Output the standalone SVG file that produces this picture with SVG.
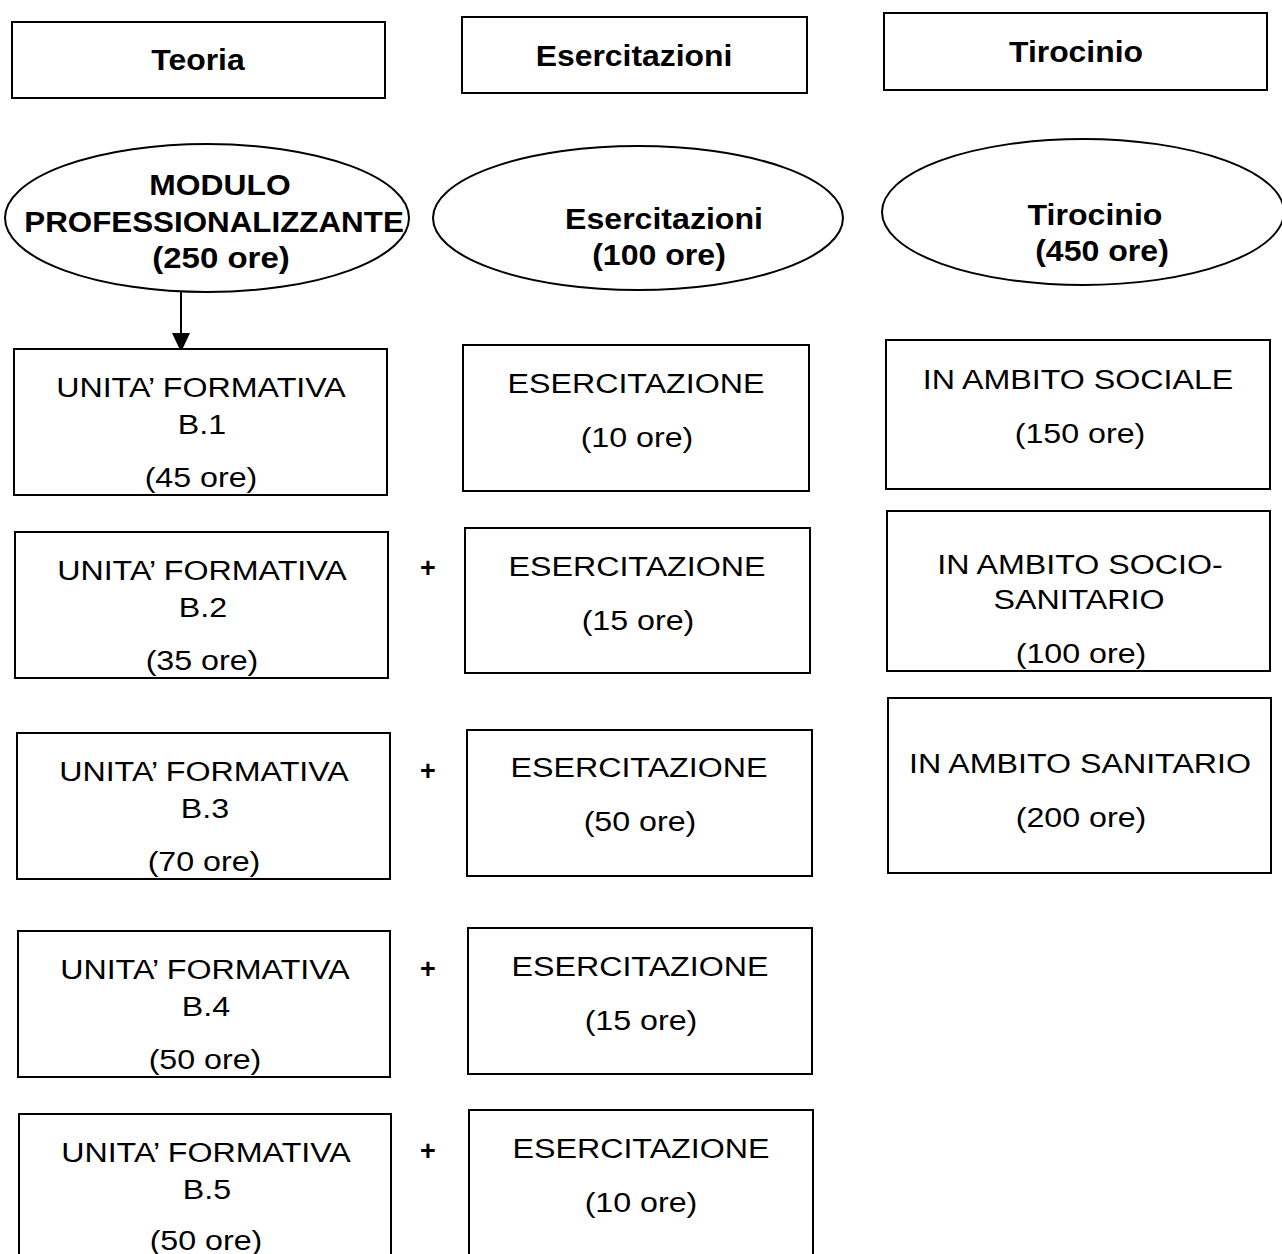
<svg xmlns="http://www.w3.org/2000/svg" width="1282" height="1254" viewBox="0 0 1282 1254">
<style>
  .box { fill: #fff; stroke: #000; stroke-width: 2; }
  .ell { fill: #fff; stroke: #000; stroke-width: 2; }
  .hd { font-family: "Liberation Sans", Arial, sans-serif; font-weight: bold; font-size: 29px; text-anchor: middle; fill: #000; }
  .el { font-family: "Liberation Sans", Arial, sans-serif; font-weight: bold; font-size: 30px; text-anchor: middle; fill: #000; }
  .tx { font-family: "Liberation Sans", Arial, sans-serif; font-size: 28px; text-anchor: middle; fill: #000; }
  .pl { font-family: "Liberation Sans", Arial, sans-serif; font-weight: bold; font-size: 27px; text-anchor: middle; fill: #000; }
</style>
<defs>
  <marker id="arrow" viewBox="0 0 19 18" refX="19" refY="9" markerWidth="19" markerHeight="18" markerUnits="userSpaceOnUse" orient="auto">
    <polygon points="0,0 19,9 0,18" fill="#000"/>
  </marker>
</defs>
<rect width="1282" height="1254" fill="#fff"/>

<g id="hdr-teoria"><rect class="box" x="12" y="22" width="373" height="76"/>
  <text class="hd" transform="translate(198 70) scale(1.1 1)">Teoria</text></g>
<g id="hdr-esercitazioni"><rect class="box" x="462" y="17" width="345" height="76"/>
  <text class="hd" transform="translate(634 66) scale(1.1 1)">Esercitazioni</text></g>
<g id="hdr-tirocinio"><rect class="box" x="884" y="13" width="383" height="77"/>
  <text class="hd" transform="translate(1076 62) scale(1.1 1)">Tirocinio</text></g>

<g id="ell-modulo"><ellipse class="ell" cx="207" cy="218" rx="202" ry="74"/>
  <text class="el" transform="translate(220 195) scale(1.06 1)">MODULO</text>
  <text class="el" transform="translate(214 232) scale(1.045 1)">PROFESSIONALIZZANTE</text>
  <text class="el" transform="translate(221 268) scale(1.1 1)">(250 ore)</text></g>
<g id="ell-esercitazioni"><ellipse class="ell" cx="638" cy="218" rx="205" ry="72"/>
  <text class="el" transform="translate(664 229) scale(1.07 1)">Esercitazioni</text>
  <text class="el" transform="translate(659 265) scale(1.07 1)">(100 ore)</text></g>
<g id="ell-tirocinio"><ellipse class="ell" cx="1083" cy="212" rx="201" ry="73"/>
  <text class="el" transform="translate(1095 225) scale(1.07 1)">Tirocinio</text>
  <text class="el" transform="translate(1102 261) scale(1.07 1)">(450 ore)</text></g>

<g id="connectors">
  <line x1="181" y1="292" x2="181" y2="352" stroke="#000" stroke-width="2" marker-end="url(#arrow)"/>
</g>

<g id="uf-b1"><rect class="box" x="14" y="349" width="373" height="146"/>
  <text class="tx" transform="translate(201 397) scale(1.15 1)">UNITA’ FORMATIVA</text>
  <text class="tx" transform="translate(202 434) scale(1.15 1)">B.1</text>
  <text class="tx" transform="translate(201 487) scale(1.15 1)">(45 ore)</text></g>
<g id="uf-b2"><rect class="box" x="15" y="532" width="373" height="146"/>
  <text class="tx" transform="translate(202 580) scale(1.15 1)">UNITA’ FORMATIVA</text>
  <text class="tx" transform="translate(203 617) scale(1.15 1)">B.2</text>
  <text class="tx" transform="translate(202 670) scale(1.15 1)">(35 ore)</text></g>
<g id="uf-b3"><rect class="box" x="17" y="733" width="373" height="146"/>
  <text class="tx" transform="translate(204 781) scale(1.15 1)">UNITA’ FORMATIVA</text>
  <text class="tx" transform="translate(205 818) scale(1.15 1)">B.3</text>
  <text class="tx" transform="translate(204 871) scale(1.15 1)">(70 ore)</text></g>
<g id="uf-b4"><rect class="box" x="18" y="931" width="372" height="146"/>
  <text class="tx" transform="translate(205 979) scale(1.15 1)">UNITA’ FORMATIVA</text>
  <text class="tx" transform="translate(206 1016) scale(1.15 1)">B.4</text>
  <text class="tx" transform="translate(205 1069) scale(1.15 1)">(50 ore)</text></g>
<g id="uf-b5"><rect class="box" x="19" y="1114" width="372" height="150"/>
  <text class="tx" transform="translate(206 1162) scale(1.15 1)">UNITA’ FORMATIVA</text>
  <text class="tx" transform="translate(207 1199) scale(1.15 1)">B.5</text>
  <text class="tx" transform="translate(206 1250) scale(1.15 1)">(50 ore)</text></g>

<g id="es-1"><rect class="box" x="463" y="345" width="346" height="146"/>
  <text class="tx" transform="translate(636 393) scale(1.15 1)">ESERCITAZIONE</text>
  <text class="tx" transform="translate(637 447) scale(1.15 1)">(10 ore)</text></g>
<g id="es-2"><rect class="box" x="465" y="528" width="345" height="145"/>
  <text class="tx" transform="translate(637 576) scale(1.15 1)">ESERCITAZIONE</text>
  <text class="tx" transform="translate(638 630) scale(1.15 1)">(15 ore)</text></g>
<g id="es-3"><rect class="box" x="467" y="730" width="345" height="146"/>
  <text class="tx" transform="translate(639 777) scale(1.15 1)">ESERCITAZIONE</text>
  <text class="tx" transform="translate(640 831) scale(1.15 1)">(50 ore)</text></g>
<g id="es-4"><rect class="box" x="468" y="928" width="344" height="146"/>
  <text class="tx" transform="translate(640 976) scale(1.15 1)">ESERCITAZIONE</text>
  <text class="tx" transform="translate(641 1030) scale(1.15 1)">(15 ore)</text></g>
<g id="es-5"><rect class="box" x="469" y="1110" width="344" height="154"/>
  <text class="tx" transform="translate(641 1158) scale(1.15 1)">ESERCITAZIONE</text>
  <text class="tx" transform="translate(641 1212) scale(1.15 1)">(10 ore)</text></g>

<g id="plus-signs">
  <text class="pl" x="428" y="577">+</text>
  <text class="pl" x="428" y="780">+</text>
  <text class="pl" x="428" y="978">+</text>
  <text class="pl" x="428" y="1160">+</text>
</g>

<g id="tir-sociale"><rect class="box" x="886" y="340" width="384" height="149"/>
  <text class="tx" transform="translate(1078 389) scale(1.15 1)">IN AMBITO SOCIALE</text>
  <text class="tx" transform="translate(1080 443) scale(1.15 1)">(150 ore)</text></g>
<g id="tir-sociosanitario"><rect class="box" x="887" y="511" width="383" height="160"/>
  <text class="tx" transform="translate(1080 574) scale(1.15 1)">IN AMBITO SOCIO-</text>
  <text class="tx" transform="translate(1079 609) scale(1.15 1)">SANITARIO</text>
  <text class="tx" transform="translate(1081 663) scale(1.15 1)">(100 ore)</text></g>
<g id="tir-sanitario"><rect class="box" x="888" y="698" width="383" height="175"/>
  <text class="tx" transform="translate(1080 773) scale(1.15 1)">IN AMBITO SANITARIO</text>
  <text class="tx" transform="translate(1081 827) scale(1.15 1)">(200 ore)</text></g>
</svg>
